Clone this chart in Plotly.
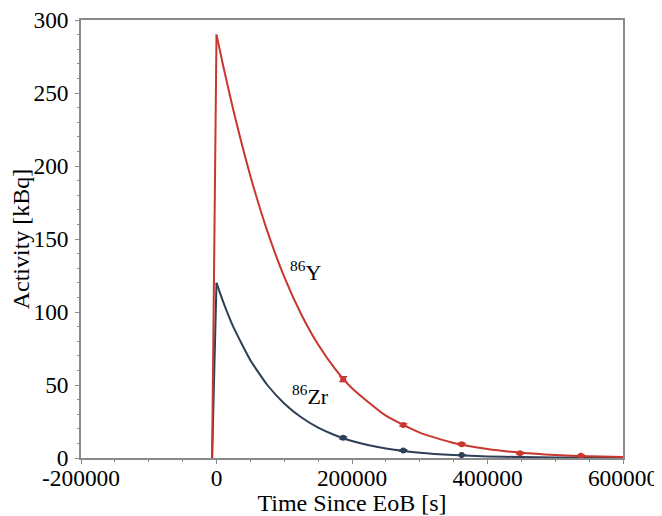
import plotly.graph_objects as go

# Fitted curves
t_curve = [-6500, 0, 10000, 25000, 50000, 75000, 100000, 125000, 150000, 175000,
           200000, 250000, 300000, 350000, 400000, 450000, 500000, 550000, 600000]
y86_curve = [0, 290, 268.3, 238.0, 193.2, 155.4, 124.1, 98.5, 77.7, 61.1,
             47.8, 29.0, 17.4, 10.3, 6.1, 3.6, 2.1, 1.2, 0.7]
zr86_curve = [0, 120, 106.8, 89.6, 67.0, 50.0, 37.4, 27.9, 20.8, 15.6,
              11.6, 6.5, 3.6, 2.0, 1.1, 0.6, 0.35, 0.2, 0.11]

# Measured points
t_y86 = [187000, 275700, 361900, 448000, 538000]
y86_meas = [54.0, 22.6, 9.5, 3.2, 1.5]
y86_err = [1.6, 0.9, 0.6, 0.5, 0.4]
t_zr86 = [187000, 275700, 361900]
zr86_meas = [13.8, 5.2, 2.0]
zr86_err = [0.8, 0.5, 0.3]

RED = "#c8372d"
BLUE = "#2e3f56"
FONT = "Liberation Serif"

fig = go.Figure()
for vals, col in [(zr86_curve, BLUE), (y86_curve, RED)]:
    # irradiation rise (straight) and decay (smooth)
    fig.add_trace(go.Scatter(x=t_curve[:2], y=vals[:2], mode="lines",
                             line=dict(color=col, width=2), showlegend=False))
    fig.add_trace(go.Scatter(x=t_curve[1:], y=vals[1:], mode="lines",
                             line=dict(color=col, width=2, shape="spline", smoothing=0.5),
                             showlegend=False))
fig.add_trace(go.Scatter(x=t_zr86, y=zr86_meas, mode="markers",
                         marker=dict(color=BLUE, size=6),
                         error_y=dict(type="data", array=zr86_err, color=BLUE, thickness=1.5, width=4),
                         showlegend=False))
fig.add_trace(go.Scatter(x=t_y86, y=y86_meas, mode="markers",
                         marker=dict(color=RED, size=6),
                         error_y=dict(type="data", array=y86_err, color=RED, thickness=1.5, width=4),
                         showlegend=False))

fig.add_annotation(x=131000, y=128, text="<sup>86</sup>Y", showarrow=False,
                   font=dict(family=FONT, size=22, color="black"), xanchor="center", yanchor="middle")
fig.add_annotation(x=138000, y=43, text="<sup>86</sup>Zr", showarrow=False,
                   font=dict(family=FONT, size=22, color="black"), xanchor="center", yanchor="middle")

axis_common = dict(showline=True, linecolor="#8a8a8a", linewidth=1.5, mirror=True,
                   showgrid=False, zeroline=False, ticks="outside", tickcolor="#8a8a8a",
                   ticklen=4, tickwidth=1, automargin=False, ticklabeloverflow="allow",
                   tickfont=dict(family=FONT, size=23.4, color="black"))

fig.update_xaxes(range=[-200000, 600000], tickvals=[-200000, 0, 200000, 400000, 600000],
                 ticktext=["-200000", "0", "200000", "400000", "600000"],
                 ticklabelstandoff=-6,
                 minor=dict(dtick=50000, ticks="outside", ticklen=2, tickcolor="#8a8a8a"),
                 title=dict(text="Time Since EoB [s]", font=dict(family=FONT, size=24, color="black"), standoff=6),
                 **axis_common)
fig.update_yaxes(range=[0, 300], dtick=50, ticklabelstandoff=2,
                 minor=dict(dtick=10, ticks="outside", ticklen=2, tickcolor="#8a8a8a"),
                 title=dict(text="Activity [kBq]", font=dict(family=FONT, size=24, color="black"), standoff=2),
                 **axis_common)

# page body has an 8px margin, so the figure is offset by 8px
fig.update_layout(width=654, height=508, plot_bgcolor="white", paper_bgcolor="white",
                  margin=dict(l=73, r=39, t=12, b=58), font=dict(family=FONT))

fig.write_html("out.html")
